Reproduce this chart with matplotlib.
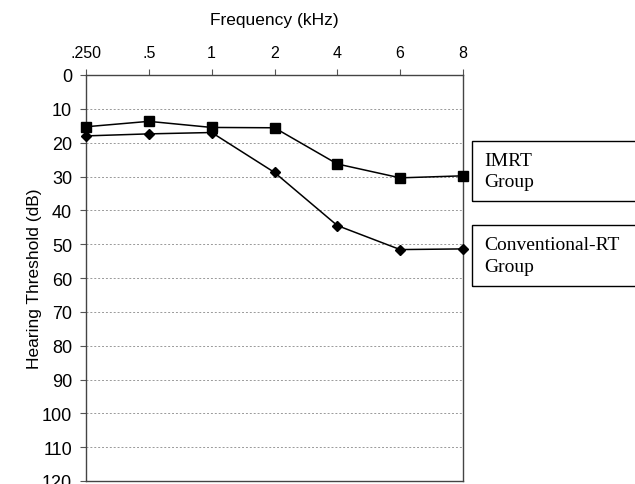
import matplotlib
matplotlib.use('Agg')
from matplotlib import pyplot as plt
from matplotlib.patches import Rectangle

# Audiogram data
freq_labels = ['.250', '.5', '1', '2', '4', '6', '8']
imrt_db = [15.3, 13.7, 15.5, 15.6, 26.3, 30.4, 29.8]
conv_db = [18.0, 17.4, 17.0, 28.8, 44.5, 51.6, 51.4]
y_ticks = list(range(0, 130, 10))

fig = plt.figure(figsize=(6.35, 4.85), dpi=100)
ax = fig.add_axes([86 / 635, 1 - 482 / 485, (463 - 86) / 635, (482 - 76) / 485])

x = list(range(len(freq_labels)))
ax.plot(x, imrt_db, color='black', lw=1.1, marker='s', ms=7, clip_on=False, zorder=3)
ax.plot(x, conv_db, color='black', lw=1.1, marker='D', ms=5, clip_on=False, zorder=3)

ax.set_xlim(0, len(freq_labels) - 1)
ax.set_ylim(120, 0)
ax.set_yticks(y_ticks)
ax.set_yticklabels([str(v) for v in y_ticks], fontsize=13, family='Liberation Sans')
ax.xaxis.tick_top()
ax.set_xticks(x)
ax.set_xticklabels(freq_labels, fontsize=11.5, family='Liberation Sans')
ax.tick_params(axis='x', length=4, pad=7, color='#555555')
ax.tick_params(axis='y', length=4, pad=6, color='#555555')
ax.xaxis.set_label_position('top')
ax.set_xlabel('Frequency (kHz)', fontsize=12.5, family='Liberation Sans', labelpad=15)
ax.set_ylabel('Hearing Threshold (dB)', fontsize=12.5, family='Liberation Sans', labelpad=0)

ax.grid(axis='y', color='#999999', ls=(0, (2, 2)), lw=0.7)
for s in ax.spines.values():
    s.set_color('#444444')
    s.set_linewidth(1.0)

# legend boxes
boxes = [('IMRT\nGroup', 142, 202), ('Conventional-RT\nGroup', 226, 287)]
for label, top, bottom in boxes:
    fig.patches.append(Rectangle((472 / 635, 1 - bottom / 485), 200 / 635, (bottom - top) / 485,
                                 transform=fig.transFigure, fill=False, ec='black', lw=1.0))
    fig.text(484 / 635, 1 - (top + bottom) / 2 / 485, label, fontsize=14,
             family='Liberation Serif', va='center', ha='left', linespacing=1.35)

fig.savefig('out.png', dpi=100)
